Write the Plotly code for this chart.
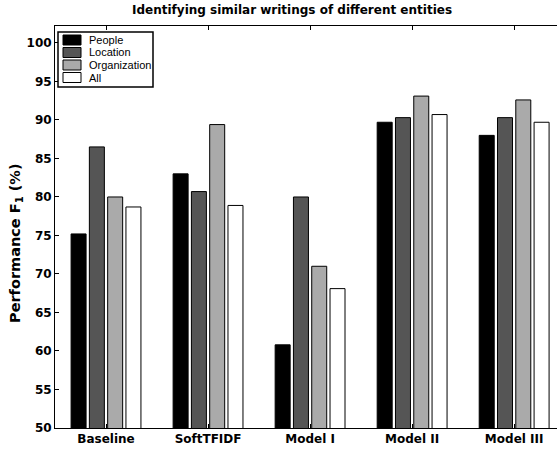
import plotly.graph_objects as go

categories = ["Baseline", "SoftTFIDF", "Model I", "Model II", "Model III"]
people = [75.2, 83.0, 60.8, 89.7, 88.0]
location = [86.5, 80.7, 80.0, 90.3, 90.3]
organization = [80.0, 89.4, 71.0, 93.1, 92.6]
all_ = [78.7, 78.9, 68.1, 90.7, 89.7]
series_names = ["People", "Location", "Organization", "All"]
series_colors = ["#000000", "#555555", "#aaaaaa", "#ffffff"]
y_ticks = [50, 55, 60, 65, 70, 75, 80, 85, 90, 95, 100]

xpos = list(range(1, len(categories) + 1))
BOLD = "DejaVu Sans, Liberation Sans, Arial, sans-serif"
REG = "Liberation Sans, Arial, Helvetica, sans-serif"

# plot-area pixel geometry (for placing decorations)
L, R, T, B = 55, 557, 26, 428
def px(x):
    return (x - L) / (R - L)
def py(y):
    return (B - y) / (B - T)

fig = go.Figure()
for name, vals, col in zip(series_names, [people, location, organization, all_], series_colors):
    fig.add_trace(go.Bar(
        x=xpos, y=vals, name=name,
        marker=dict(color=col, line=dict(color="#000000", width=1)),
    ))

shapes = [
    dict(type="rect", xref="paper", yref="paper",
         x0=px(58), x1=px(153), y0=py(32), y1=py(87),
         line=dict(color="black", width=1.5), fillcolor="white", layer="above"),
]
annotations = [
    dict(text="<b>Identifying similar writings of different entities</b>",
         xref="paper", yref="paper", x=px(292), y=py(10),
         xanchor="center", yanchor="middle", showarrow=False,
         font=dict(family=BOLD, size=12, color="black")),
    dict(text="<b>Performance F<sub>1</sub> (%)</b>",
         xref="paper", yref="paper", x=px(16), y=py(243),
         xanchor="center", yanchor="middle", textangle=-90, showarrow=False,
         font=dict(family=BOLD, size=14.5, color="black")),
]
centers = [40, 52.5, 65, 77.5]
for name, col, cy in zip(series_names, series_colors, centers):
    shapes.append(dict(type="rect", xref="paper", yref="paper",
                       x0=px(63), x1=px(81), y0=py(cy - 5), y1=py(cy + 5),
                       line=dict(color="black", width=1), fillcolor=col, layer="above"))
    annotations.append(dict(text=name, xref="paper", yref="paper",
                            x=px(87), y=py(cy), xanchor="left", yanchor="middle",
                            showarrow=False,
                            font=dict(family=REG, size=11, color="black")))

fig.update_layout(
    width=557, height=450,
    margin=dict(l=L, r=557 - R, t=T, b=450 - B, pad=0),
    paper_bgcolor="white", plot_bgcolor="white",
    barmode="group", bargap=0.283, bargroupgap=0.18,
    font=dict(family=REG, size=11, color="black"),
    showlegend=False,
    shapes=shapes,
    annotations=annotations,
)

fig.update_xaxes(
    range=[0.5, 5.42], tickvals=xpos, ticktext=categories,
    showline=True, linecolor="black", linewidth=1, mirror="ticks",
    ticks="inside", ticklen=4, tickcolor="black",
    tickfont=dict(family=BOLD, size=12, color="black", weight="bold"),
    showgrid=False, zeroline=False, fixedrange=True,
)
fig.update_yaxes(
    range=[50, 102.2], tickvals=y_ticks,
    showline=True, linecolor="black", linewidth=1, mirror=False,
    ticks="inside", ticklen=4, tickcolor="black",
    tickfont=dict(family=BOLD, size=12, color="black", weight="bold"),
    showgrid=False, zeroline=False, fixedrange=True,
)

fig.write_html("out.html")
